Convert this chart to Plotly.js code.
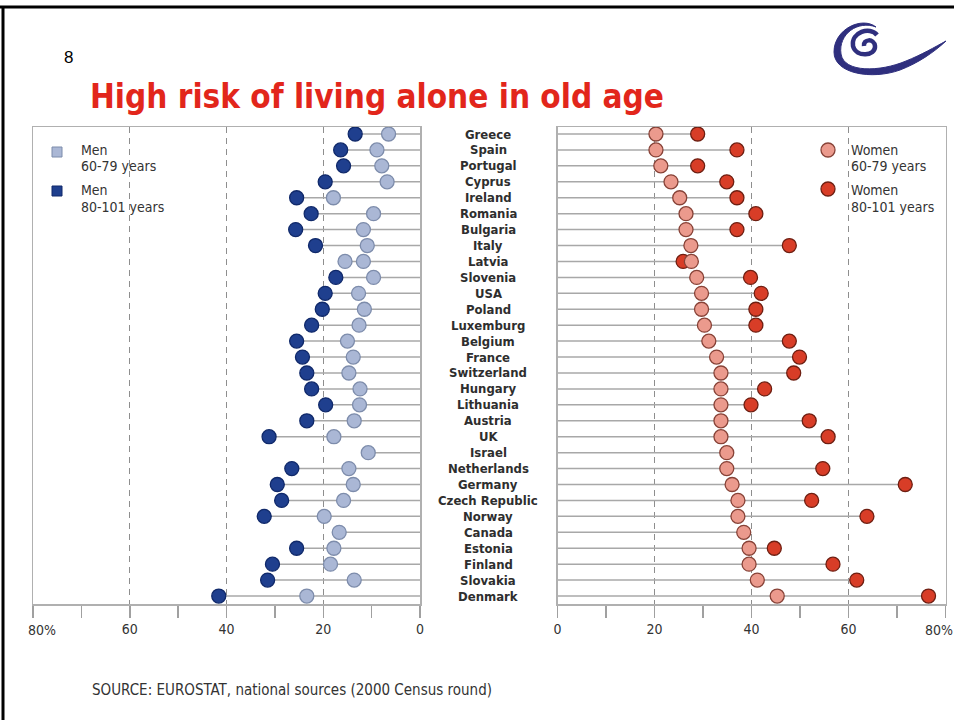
<!DOCTYPE html>
<html><head><meta charset="utf-8">
<script src="https://cdn.plot.ly/plotly-3.0.1.min.js"></script>
<style>html,body{margin:0;padding:0;background:#fff}#chart{width:954px;height:720px}</style>
</head><body><div id="chart"></div>
<script>
const countries = ["Greece","Spain","Portugal","Cyprus","Ireland","Romania","Bulgaria","Italy","Latvia","Slovenia","USA","Poland","Luxemburg","Belgium","France","Switzerland","Hungary","Lithuania","Austria","UK","Israel","Netherlands","Germany","Czech Republic","Norway","Canada","Estonia","Finland","Slovakia","Denmark"];
const men6079 = [6.5,8.9,7.9,6.8,17.9,9.6,11.7,10.9,11.7,9.6,12.7,11.5,12.6,15.0,13.8,14.7,12.4,12.5,13.6,17.8,10.7,14.7,13.8,15.8,19.8,16.7,17.8,18.5,13.6,23.4];
const men80101 = [13.4,16.4,15.8,19.6,25.5,22.5,25.7,21.6,15.5,17.4,19.6,20.2,22.4,25.5,24.3,23.4,22.4,19.5,23.4,31.2,null,26.5,29.5,28.6,32.2,null,25.5,30.5,31.5,41.6];
const women6079 = [20.3,20.3,21.3,23.4,25.2,26.5,26.5,27.5,27.6,28.7,29.7,29.7,30.3,31.2,32.8,33.7,33.7,33.7,33.7,33.7,34.9,34.9,36.0,37.2,37.2,38.4,39.5,39.5,41.2,45.3];
const women80101 = [28.9,37.0,28.9,34.9,37.0,40.9,37.0,47.8,25.9,39.8,42.0,40.9,40.9,47.8,49.9,48.7,42.7,39.9,51.9,55.8,null,54.7,71.7,52.4,63.8,null,44.7,56.8,61.7,76.5];
const majorTicks = [0,20,40,60,80];
const majorLabels = ["0","20","40","60","80%"];
const minorTicks = [10,30,50,70];
const titleText = "High risk of living alone in old age";
const pageNumber = "8";
const sourceText = "SOURCE: EUROSTAT, national sources (2000 Census round)";
const menLegend = [["Men","60-79 years"],["Men","80-101 years"]];
const womenLegend = [["Women","60-79 years"],["Women","80-101 years"]];

const NARROW = '"Liberation Sans Narrow","DejaVu Sans Condensed","Roboto Condensed","Arial Narrow",Roboto,sans-serif';
const MEN_L = {fill:'#aab7d5', line:'#7d8cab'};
const MEN_D = {fill:'#1f3f8e', line:'#10296a'};
const WOM_L = {fill:'#eb9a8d', line:'#874237'};
const WOM_D = {fill:'#d83d27', line:'#6e1f12'};

function stems(a, b, xa, ya){
  const x=[], y=[];
  countries.forEach((c,i)=>{
    const m = Math.max(a[i]==null?0:a[i], b[i]==null?0:b[i]);
    x.push(0, m, null); y.push(c, c, null);
  });
  return {type:'scatter', mode:'lines', x, y, xaxis:xa, yaxis:ya, line:{color:'#a8a8a8', width:1.5}, hoverinfo:'skip', showlegend:false};
}
function dots(vals, col, xa, ya, fills, lines){
  return {type:'scatter', mode:'markers', x:vals, y:countries, xaxis:xa, yaxis:ya,
    marker:{size:14, color: fills || col.fill, line:{color: lines || col.line, width:1.3}},
    showlegend:false, hoverinfo:'x+y'};
}
// Latvia's older-men marker is drawn in the light tone in the original chart
const menDarkFills = countries.map(c => c==="Latvia" ? MEN_L.fill : MEN_D.fill);
const menDarkLines = countries.map(c => c==="Latvia" ? MEN_L.line : MEN_D.line);

const traces = [
  stems(men6079, men80101, 'x', 'y'),
  stems(women6079, women80101, 'x2', 'y2'),
  dots(men80101, MEN_D, 'x', 'y', menDarkFills, menDarkLines),
  dots(men6079, MEN_L, 'x', 'y'),
  dots(women80101, WOM_D, 'x2', 'y2'),
  dots(women6079, WOM_L, 'x2', 'y2'),
  {type:'scatter', x:[null], y:[null], xaxis:'x3', yaxis:'y3', hoverinfo:'skip', showlegend:false}
];

const W=954, H=720;
const rowTop = -0.44, rowBottom = 29.5;
const shownLabels = majorLabels.map((t,i)=> i===majorLabels.length-1 ? '' : t);
const xCommon = {
  tickmode:'array', tickvals:majorTicks, ticktext:shownLabels,
  ticks:'outside', ticklen:12, tickwidth:1.5, tickcolor:'#a0a0a0',
  showline:true, mirror:true, linecolor:'#b0b0b0', linewidth:1.5,
  showgrid:true, gridcolor:'#8e8e8e', gridwidth:1.2, griddash:'6px,5px',
  zeroline:false, fixedrange:true,
  tickfont:{family:NARROW, size:14, color:'#333'},
  minor:{tickmode:'array', tickvals:minorTicks, ticks:'outside', ticklen:12, tickwidth:1.5, tickcolor:'#a0a0a0', showgrid:false}
};
const yCommon = {
  type:'category', categoryarray:countries, range:[rowBottom,rowTop],
  domain:[1-604/H, 1-127/H], showticklabels:false, ticks:'', showgrid:false,
  showline:true, mirror:true, linecolor:'#b0b0b0', linewidth:1.5, zeroline:false, fixedrange:true
};

const annotations = [];
countries.forEach(c => annotations.push({xref:'x3', yref:'y', x:488, y:c, text:'<b>'+c+'</b>', showarrow:false, xanchor:'center', yanchor:'middle',
  borderpad:0, font:{family:NARROW, size:13, color:'#2e2e2e'}}));
// end-of-axis "80%" labels, nudged inside the panels as in the original
annotations.push({xref:'x', yref:'y3', x:majorTicks[majorTicks.length-1], y:630, xshift:9, text:majorLabels[majorLabels.length-1], showarrow:false,
  xanchor:'center', yanchor:'middle', font:{family:NARROW, size:14, color:'#333'}});
annotations.push({xref:'x2', yref:'y3', x:majorTicks[majorTicks.length-1], y:630, xshift:-7, text:majorLabels[majorLabels.length-1], showarrow:false,
  xanchor:'center', yanchor:'middle', font:{family:NARROW, size:14, color:'#333'}});
annotations.push({xref:'x3', yref:'y3', x:88, y:96, text:'<b>'+titleText+'</b>', showarrow:false, xanchor:'left', yanchor:'middle',
  font:{family:NARROW, size:33, color:'#e2261b'}});
annotations.push({xref:'x3', yref:'y3', x:68, y:57, text:pageNumber, showarrow:false, xanchor:'center', yanchor:'middle',
  font:{family:'"Liberation Sans",Arial,sans-serif', size:17, color:'#000'}});
annotations.push({xref:'x3', yref:'y3', x:90, y:690, text:sourceText, showarrow:false, xanchor:'left', yanchor:'middle',
  font:{family:NARROW, size:15, color:'#333'}});
const legY = [[150,166],[190,207]];
menLegend.forEach((lines,k)=>lines.forEach((t,j)=>annotations.push({xref:'x3', yref:'y3', x:80, y:legY[k][j], text:t, showarrow:false, xanchor:'left', yanchor:'middle',
  borderpad:0, font:{family:NARROW, size:14, color:'#333'}})));
womenLegend.forEach((lines,k)=>lines.forEach((t,j)=>annotations.push({xref:'x3', yref:'y3', x:850, y:legY[k][j], text:t, showarrow:false, xanchor:'left', yanchor:'middle',
  borderpad:0, font:{family:NARROW, size:14, color:'#333'}})));

const LOGO = '#2f2f7e';
const shapes = [
  {type:'line', xref:'x3', yref:'y3', x0:0, x1:954, y0:7, y1:7, line:{color:'#000', width:3}},
  {type:'line', xref:'x3', yref:'y3', x0:3, x1:3, y0:6, y1:720, line:{color:'#000', width:3}},
  {type:'rect', xref:'x3', yref:'y3', x0:52, x1:62, y0:147, y1:157, fillcolor:MEN_L.fill, line:{color:MEN_L.line, width:1}},
  {type:'rect', xref:'x3', yref:'y3', x0:52, x1:62, y0:186, y1:196, fillcolor:MEN_D.fill, line:{color:MEN_D.line, width:1}},
  {type:'circle', xref:'x3', yref:'y3', x0:821, x1:835, y0:143, y1:157, fillcolor:WOM_L.fill, line:{color:WOM_L.line, width:1.3}},
  {type:'circle', xref:'x3', yref:'y3', x0:821, x1:835, y0:182, y1:196, fillcolor:WOM_D.fill, line:{color:WOM_D.line, width:1.3}},
  // logo swirl
  {type:'path', xref:'x3', yref:'y3', path:'M 876 27 C 858 20, 838 34, 841 54 C 844 73, 880 72, 906 61 C 921 55, 935 47, 946 41 C 933 53, 918 63, 900 70 C 872 80, 834 74, 834 52 C 834 29, 862 16, 876 27 Z',
    fillcolor:LOGO, line:{color:LOGO, width:1}},
  {type:'path', xref:'x3', yref:'y3', path:'M 877 35 C 870 26, 851 32, 853 46 C 856 58, 876 56, 875 46 C 874 38, 863 39, 864 46',
    line:{color:LOGO, width:4.5}}
];

const layout = {
  width:W, height:H, margin:{l:0,r:0,t:0,b:0}, paper_bgcolor:'#fff', plot_bgcolor:'rgba(0,0,0,0)',
  showlegend:false,
  xaxis: Object.assign({}, xCommon, {domain:[33/W, 420/W], range:[80,0], anchor:'y'}),
  xaxis2: Object.assign({}, xCommon, {domain:[557.5/W, 945.5/W], range:[0,80], anchor:'y2'}),
  yaxis: Object.assign({}, yCommon, {anchor:'x'}),
  yaxis2: Object.assign({}, yCommon, {anchor:'x2'}),
  xaxis3: {domain:[0,1], range:[0,W], visible:false, anchor:'y3', fixedrange:true},
  yaxis3: {domain:[0,1], range:[H,0], visible:false, anchor:'x3', fixedrange:true},
  annotations, shapes
};
Plotly.newPlot('chart', traces, layout, {displayModeBar:false, staticPlot:true});
</script></body></html>
